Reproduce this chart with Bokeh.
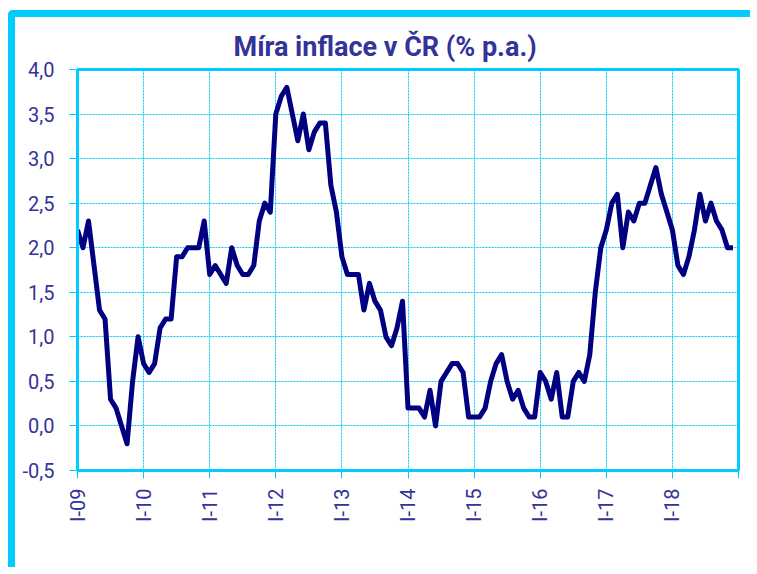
import math
from bokeh.plotting import figure
from bokeh.models import FixedTicker, CustomJSTickFormatter, Range1d
from bokeh.embed import file_html
from bokeh.resources import INLINE

# Monthly CPI inflation y/y (% p.a.), Jan 2009 - Dec 2018
infl_2009 = [2.2, 2.0, 2.3, 1.8, 1.3, 1.2, 0.3, 0.2, 0.0, -0.2, 0.5, 1.0]
infl_2010 = [0.7, 0.6, 0.7, 1.1, 1.2, 1.2, 1.9, 1.9, 2.0, 2.0, 2.0, 2.3]
infl_2011 = [1.7, 1.8, 1.7, 1.6, 2.0, 1.8, 1.7, 1.7, 1.8, 2.3, 2.5, 2.4]
infl_2012 = [3.5, 3.7, 3.8, 3.5, 3.2, 3.5, 3.1, 3.3, 3.4, 3.4, 2.7, 2.4]
infl_2013 = [1.9, 1.7, 1.7, 1.7, 1.3, 1.6, 1.4, 1.3, 1.0, 0.9, 1.1, 1.4]
infl_2014 = [0.2, 0.2, 0.2, 0.1, 0.4, 0.0, 0.5, 0.6, 0.7, 0.7, 0.6, 0.1]
infl_2015 = [0.1, 0.1, 0.2, 0.5, 0.7, 0.8, 0.5, 0.3, 0.4, 0.2, 0.1, 0.1]
infl_2016 = [0.6, 0.5, 0.3, 0.6, 0.1, 0.1, 0.5, 0.6, 0.5, 0.8, 1.5, 2.0]
infl_2017 = [2.2, 2.5, 2.6, 2.0, 2.4, 2.3, 2.5, 2.5, 2.7, 2.9, 2.6, 2.4]
infl_2018 = [2.2, 1.8, 1.7, 1.9, 2.2, 2.6, 2.3, 2.5, 2.3, 2.2, 2.0, 2.0]

year_labels = ["I-09", "I-10", "I-11", "I-12", "I-13", "I-14", "I-15", "I-16", "I-17", "I-18"]
y_ticks = [-0.5, 0.0, 0.5, 1.0, 1.5, 2.0, 2.5, 3.0, 3.5, 4.0]

values = (infl_2009 + infl_2010 + infl_2011 + infl_2012 + infl_2013 +
          infl_2014 + infl_2015 + infl_2016 + infl_2017 + infl_2018)
months = list(range(len(values)))
n_months = 12 * (len(year_labels))

CYAN = "#00CCFF"
TXT = "#333399"
FONT = "Roboto"

p = figure(width=742, height=557, output_backend="svg", toolbar_location=None,
           x_range=Range1d(0, n_months), y_range=Range1d(y_ticks[0], y_ticks[-1]),
           min_border_left=62, min_border_right=19, min_border_top=52, min_border_bottom=104)

p.styles = {"border-top": "7px solid " + CYAN, "border-left": "7px solid " + CYAN,
            "margin-top": "10px", "margin-left": "8px", "border-top-left-radius": "5px"}

p.background_fill_color = "white"
p.border_fill_color = "white"
p.outline_line_color = CYAN
p.outline_line_width = 3

p.title.text = "Míra inflace v ČR (% p.a.)"
p.title.align = "left"
p.title.offset = 156
p.title.standoff = 10
p.title.vertical_align = "top"
p.title.text_font = FONT
p.title.text_font_style = "bold"
p.title.text_font_size = "27px"
p.title.text_color = TXT

p.line(months, values, line_color="#000080", line_width=5, line_join="round")

# axes
p.xaxis.ticker = FixedTicker(ticks=list(range(0, n_months + 1, 12)))
overrides = {i * 12: lab for i, lab in enumerate(year_labels)}
overrides[n_months] = ""
p.xaxis.major_label_overrides = overrides
p.xaxis.major_label_orientation = math.pi / 2
p.yaxis.ticker = FixedTicker(ticks=y_ticks)
p.yaxis.formatter = CustomJSTickFormatter(code="return tick.toFixed(1).replace('.', ',');")

for ax in (p.xaxis, p.yaxis):
    ax.axis_line_color = CYAN
    ax.axis_line_width = 3
    ax.major_tick_line_color = CYAN
    ax.major_tick_line_width = 1
    ax.major_tick_in = 0
    ax.major_tick_out = 8
    ax.minor_tick_line_color = None
    ax.major_label_text_color = TXT
    ax.major_label_text_font = FONT
    ax.major_label_text_font_size = "20px"
p.yaxis.major_label_standoff = 15
p.xaxis.major_label_standoff = 10

p.xgrid.ticker = FixedTicker(ticks=list(range(0, n_months + 1, 12)))
for g in (p.xgrid, p.ygrid):
    g.grid_line_color = CYAN
    g.grid_line_width = 1
    g.grid_line_dash = "2 1"

open("out.html", "w").write(file_html(p, INLINE))
